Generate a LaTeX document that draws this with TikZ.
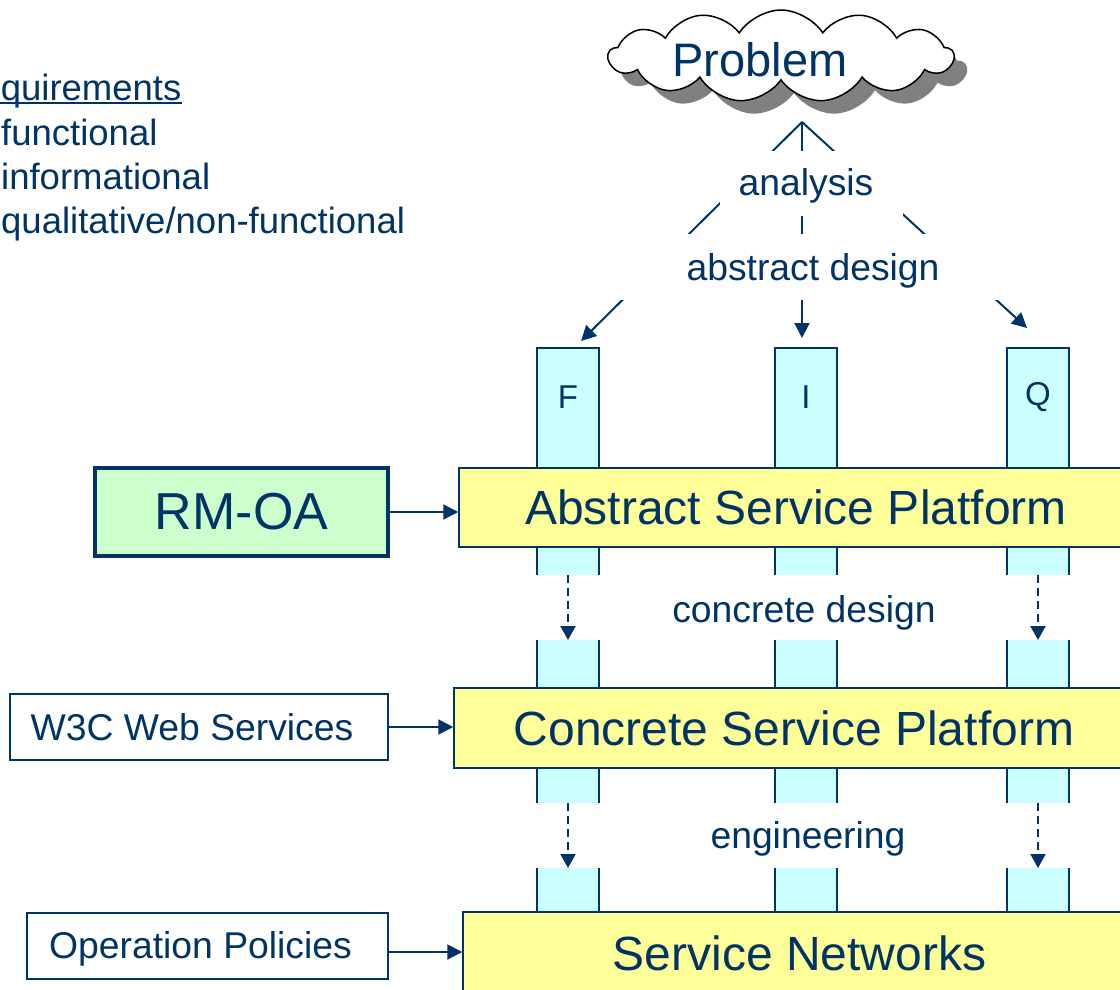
\documentclass[tikz,border=0pt]{standalone}
\usepackage{fontspec}
\setmainfont{Liberation Sans}
\usetikzlibrary{shapes.symbols,shadows,arrows.meta}
\definecolor{navy}{HTML}{003366}
\definecolor{colcyan}{HTML}{CCFFFF}
\definecolor{platyellow}{HTML}{FFFF99}
\definecolor{rmgreen}{HTML}{CCFFCC}
\definecolor{shadowgray}{HTML}{808080}
\tikzset{
  lbl/.style={text=navy, font=\fontsize{37.3}{44}\selectfont, inner sep=0pt},
  reqtxt/.style={text=navy, font=\fontsize{36.5}{44}\selectfont, inner sep=0pt, anchor=base west},
  bigtxt/.style={text=navy, font=\fontsize{48}{56}\selectfont},
  platform/.style={bigtxt, draw=navy, line width=1.5pt, fill=platyellow, inner sep=0pt},
  sidebox/.style={lbl, draw=navy, line width=1.5pt, fill=white},
  colline/.style={draw=navy, line width=2pt},
  arr/.style={draw=navy, line width=2pt, -{Triangle[length=15pt,width=15pt]}},
  darr/.style={draw=navy, line width=2pt, dash pattern=on 8pt off 5pt, -{Triangle[length=14pt,width=15pt]}},
  cover/.style={fill=white, inner sep=0pt},
}
\begin{document}
\begin{tikzpicture}[x=1pt,y=-1pt]
\useasboundingbox (0,0) rectangle (1120,990);
\clip (0,0) rectangle (1120,990);

% requirements text (clipped at the left edge, as in the reference)
\node[reqtxt] (req) at (-46,100) {Requirements};
\draw[navy, line width=2pt] ([yshift=-3.5pt]req.base west) -- ([yshift=-3.5pt]req.base east);
\node[reqtxt] (rf) at (1,145) {functional};
\node[reqtxt] (ri) at (1,189) {informational};
\node[reqtxt] (rq) at (1,233) {qualitative/non-functional};

% cloud
\node[cloud, cloud puffs=13, cloud puff arc=115, cloud ignores aspect,
      minimum width=345pt, minimum height=92pt, draw=black, line width=1.5pt, fill=white,
      drop shadow={shadow xshift=13pt, shadow yshift=-13pt, fill=shadowgray, opacity=1}]
      (cloud) at (781,56) {};
\node[text=navy, font=\fontsize{47}{56}\selectfont, inner sep=0pt] (problem) at (760,60) {Problem};

% columns
\foreach \cx/\nm in {568/F,806/I,1038/Q}{
  \fill[colcyan] (\cx-31,348) rectangle (\cx+31,575);
  \draw[colline] (\cx-31,575) -- (\cx-31,348) -- (\cx+31,348) -- (\cx+31,575);
  \fill[colcyan] (\cx-31,640) rectangle (\cx+31,803);
  \draw[colline] (\cx-31,640) -- (\cx-31,803) (\cx+31,640) -- (\cx+31,803);
  \fill[colcyan] (\cx-31,868) rectangle (\cx+31,915);
  \draw[colline] (\cx-31,868) -- (\cx-31,915) (\cx+31,868) -- (\cx+31,915);
  \node[text=navy, font=\fontsize{33}{40}\selectfont, inner sep=0pt] (col\nm) at (\cx,397) {\nm};
}

% analysis / abstract design fan
\coordinate (apex) at (802,122);
\coordinate (tF) at (581,341);
\coordinate (tI) at (802,338);
\coordinate (tQ) at (1027,328);
\draw[arr] (apex) -- (tF);
\draw[arr] (apex) -- (tI);
\draw[arr] (apex) -- (tQ);
\node[cover, minimum width=183pt, minimum height=65pt] (anacover) at (811.5,183.5) {};
\node[cover, minimum width=378pt, minimum height=66pt] (abscover) at (809,267) {};
\node[lbl] (analysis) at (806,186) {analysis};
\node[lbl] (absdesign) at (813,271) {abstract design};

% platforms
\node[platform, minimum width=674pt, minimum height=79pt] (asp) at (796,507.5) {Abstract Service Platform};
\node[platform, minimum width=680pt, minimum height=80pt] (csp) at (794,728) {Concrete Service Platform};
\node[platform, minimum width=673pt, minimum height=83pt] (sn) at (799.5,953.5) {Service Networks};

% side boxes
\node[draw=navy, line width=4pt, fill=rmgreen, text=navy, font=\fontsize{52}{60}\selectfont,
      minimum width=293pt, minimum height=88pt, inner sep=0pt] (rmoa) at (241.5,512) {RM-OA};
\node[sidebox, minimum width=378pt, minimum height=66pt] (w3c) at (199,727) {W3C Web Services\kern14pt};
\node[sidebox, minimum width=361pt, minimum height=66pt, text depth=3pt] (op) at (207.5,946) {Operation Policies\kern14pt};

\draw[arr] (rmoa.east) -- (asp.west |- rmoa.east);
\draw[arr] (w3c.east) -- (csp.west |- w3c.east);
\draw[arr] (op.east |- 0,952) -- (sn.west |- 0,952);

% concrete design / engineering
\coordinate (dF1) at (568,575); \coordinate (eF1) at (568,640);
\coordinate (dQ1) at (1038,575); \coordinate (eQ1) at (1038,640);
\coordinate (dF2) at (568,803); \coordinate (eF2) at (568,868);
\coordinate (dQ2) at (1038,803); \coordinate (eQ2) at (1038,868);
\draw[darr] (dF1) -- (eF1);
\draw[darr] (dQ1) -- (eQ1);
\draw[darr] (dF2) -- (eF2);
\draw[darr] (dQ2) -- (eQ2);
\node[lbl] (cdesign) at (804,613) {concrete design};
\node[lbl] (eng) at (808,839) {engineering};
\end{tikzpicture}
\end{document}
